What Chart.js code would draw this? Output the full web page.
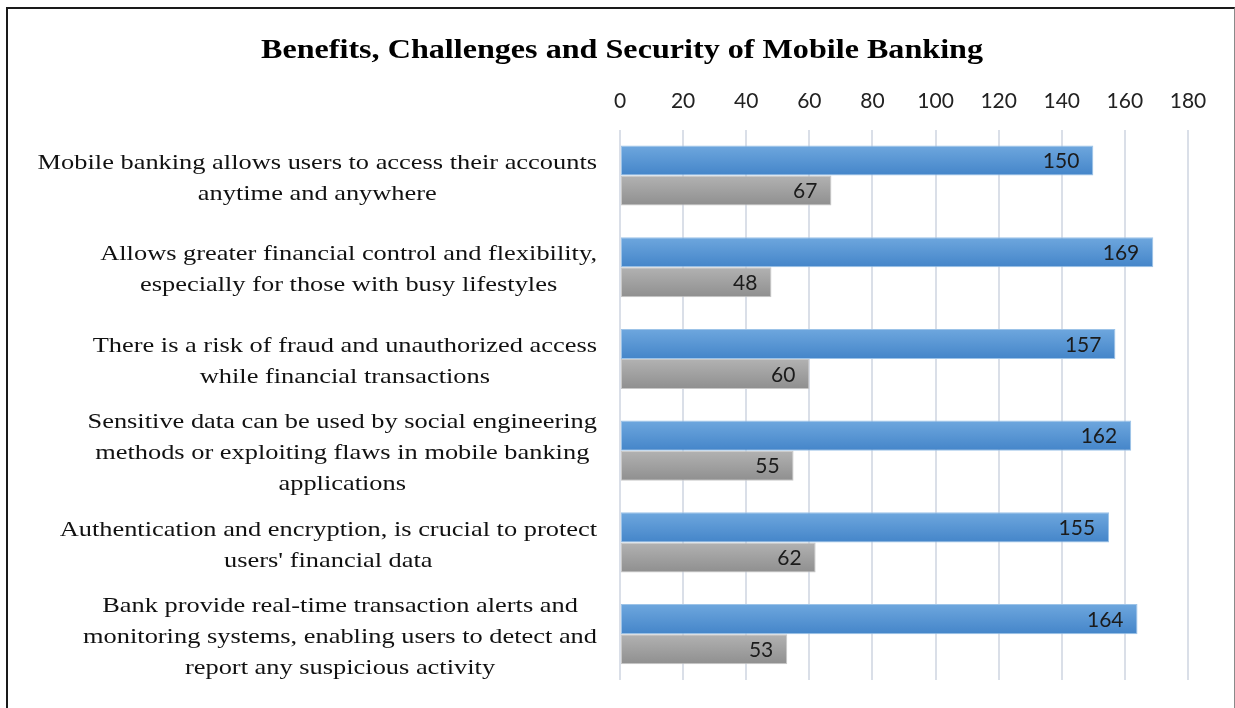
<!DOCTYPE html>
<html>
<head>
<meta charset="utf-8">
<script src="https://cdn.jsdelivr.net/npm/chart.js@4.4.1/dist/chart.umd.min.js"></script>
<style>
  html, body { margin: 0; padding: 0; background: #fff; overflow: hidden; }
  #frame {
    position: absolute; left: 6px; top: 7px; width: 1226px; height: 710px;
    border-left: 2px solid #1a1a1a; border-top: 2px solid #1a1a1a; border-right: 1px solid #8a8a8a;
  }
  #grafico { position: absolute; left: 0; top: 0; }
</style>
</head>
<body>
<div id="frame"><canvas id="grafico" width="1226" height="700"></canvas></div>
<script>
const categorias = [
    ["Mobile banking allows users to access their accounts", "anytime and anywhere"],
    ["Allows greater financial control and flexibility,", "especially for those with busy lifestyles"],
    ["There is a risk of fraud and unauthorized access", "while financial transactions"],
    ["Sensitive data can be used by social engineering", "methods or exploiting flaws in mobile banking", "applications"],
    ["Authentication and encryption, is crucial to protect", "users' financial data"],
    ["Bank provide real-time transaction alerts and", "monitoring systems, enabling users to detect and", "report any suspicious activity"]
];
const serieAzul = [150, 169, 157, 162, 155, 164];
const serieCinza = [67, 48, 60, 55, 62, 53];
const ticksX = [0, 20, 40, 60, 80, 100, 120, 140, 160, 180];
const titulo = 'Benefits, Challenges and Security of Mobile Banking';

const serif = '"Liberation Serif", "Times New Roman", serif';
const fonteRotulo = '22px ' + serif;
const fonteTitulo = 'bold 27px ' + serif;
const fonteNumero = '21px Lato, "Open Sans", sans-serif';
const esticar = 1.2; // o texto da figura original está esticado na horizontal

// gradiente vertical por barra (usa a posição que o próprio Chart.js calculou)
function gradiente(ctx, cores, solido) {
    const el = ctx.chart.getDatasetMeta(ctx.datasetIndex).data[ctx.dataIndex];
    if (!el || el.height == null || isNaN(el.y)) return solido;
    const g = ctx.chart.ctx.createLinearGradient(0, el.y - el.height / 2, 0, el.y + el.height / 2);
    g.addColorStop(0, cores[0]);
    g.addColorStop(1, cores[1]);
    return g;
}

// texto esticado horizontalmente, centralizado em cx
function textoEsticado(ctx, texto, cx, cy, fator) {
    ctx.save();
    ctx.translate(cx, cy);
    ctx.scale(fator, 1);
    ctx.fillText(texto, 0, 0);
    ctx.restore();
}

// rótulos de valor dentro da ponta da barra
const rotulosValor = {
    id: 'rotulosValor',
    afterDatasetsDraw(chart) {
        const ctx = chart.ctx;
        ctx.save();
        ctx.font = fonteNumero;
        ctx.fillStyle = '#1b1b1b';
        ctx.textAlign = 'right';
        ctx.textBaseline = 'middle';
        chart.data.datasets.forEach((ds, i) => {
            chart.getDatasetMeta(i).data.forEach((bar, j) => {
                ctx.fillText(ds.data[j], bar.x - 14, bar.y + 1);
            });
        });
        ctx.restore();
    }
};

// título e rótulos das categorias (cada bloco centralizado, alinhado à direita)
const textos = {
    id: 'textos',
    afterDraw(chart) {
        const ctx = chart.ctx;
        const y = chart.scales.y;
        const direita = chart.chartArea.left - 23;
        const altLinha = 31;
        ctx.save();
        ctx.textAlign = 'center';
        ctx.textBaseline = 'middle';

        ctx.font = fonteTitulo;
        ctx.fillStyle = '#000';
        textoEsticado(ctx, titulo, chart.width / 2 + 1, 42, 1.19);

        ctx.font = fonteRotulo;
        ctx.fillStyle = '#111';
        categorias.forEach((linhas, i) => {
            const largura = Math.max(...linhas.map(l => ctx.measureText(l).width)) * esticar;
            const cx = direita - largura / 2;
            const cy = y.getPixelForTick(i) + 3;
            const topo = cy - (linhas.length - 1) * altLinha / 2;
            linhas.forEach((l, k) => textoEsticado(ctx, l, cx, topo + k * altLinha, esticar));
        });
        ctx.restore();
    }
};

const grafico = new Chart(document.getElementById('grafico'), {
    type: 'bar',
    data: {
        labels: categorias,
        datasets: [{
            data: serieAzul,
            backgroundColor: (c) => gradiente(c, ['#6ea7de', '#4485c9'], '#5b9bd5'),
            borderColor: '#9cc3e8',
            borderWidth: 1,
            borderSkipped: false
        }, {
            data: serieCinza,
            backgroundColor: (c) => gradiente(c, ['#b2b2b2', '#8f8f8f'], '#a5a5a5'),
            borderColor: '#c8c8c8',
            borderWidth: 1,
            borderSkipped: false
        }]
    },
    options: {
        indexAxis: 'y',
        responsive: false,
        animation: false,
        layout: { padding: { left: 14, right: 46, top: 0, bottom: 29 } },
        datasets: { bar: { categoryPercentage: 0.655, barPercentage: 1 } },
        plugins: {
            legend: { display: false },
            tooltip: { enabled: false },
            title: {
                display: true,
                text: titulo,
                color: 'rgba(0,0,0,0)',
                font: { family: serif, size: 27, weight: 'bold' },
                padding: { top: 30, bottom: 1 }
            }
        },
        scales: {
            x: {
                position: 'top',
                min: 0,
                max: 180,
                afterBuildTicks: (s) => { s.ticks = ticksX.map(v => ({ value: v })); },
                ticks: { color: '#222', font: { family: 'Lato, "Open Sans", sans-serif', size: 21 }, padding: 16 },
                grid: { color: '#dadfe8', lineWidth: 2, drawTicks: false },
                border: { display: false }
            },
            y: {
                afterFit: (s) => { s.width = 598; },
                ticks: { display: false },
                grid: { display: false, drawTicks: false },
                border: { display: false }
            }
        }
    },
    plugins: [rotulosValor, textos]
});
grafico.update();
</script>
</body>
</html>
